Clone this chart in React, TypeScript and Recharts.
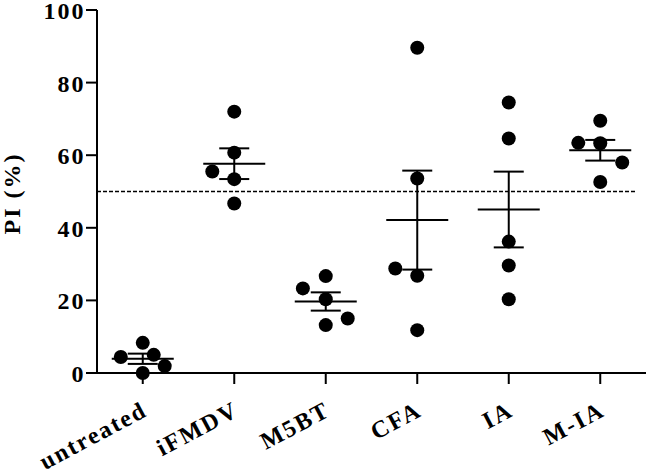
import {
  ScatterChart,
  Scatter,
  XAxis,
  YAxis,
  ReferenceLine,
  ErrorBar
} from 'recharts';

const groups = ['untreated', 'iFMDV', 'M5BT', 'CFA', 'IA', 'M-IA'];

// PI (%) per animal
const untreated = [4.4, 8.3, 5.0, 1.9, 0.0];
const iFMDV = [72.0, 60.7, 55.5, 53.4, 46.7];
const m5bt = [23.3, 26.7, 20.3, 13.2, 15.0];
const cfa = [89.6, 53.6, 28.8, 26.8, 11.8];
const ia = [74.5, 64.6, 36.2, 29.6, 20.3];
const mia = [69.5, 63.4, 63.3, 58.0, 52.6];

// horizontal scatter offsets (in category units) for overlapping dots
const untreatedShift = [-0.24, 0, 0.12, 0.24, 0];
const iFMDVShift = [0, 0, -0.24, 0, 0];
const m5btShift = [-0.25, 0, 0, 0, 0.24];
const cfaShift = [0, 0, -0.24, 0, 0];
const iaShift = [0, 0, 0, 0, 0];
const miaShift = [0, -0.24, 0, 0.24, 0];

const yTicks = [0, 20, 40, 60, 80, 100];
const threshold = 50;

const values = [untreated, iFMDV, m5bt, cfa, ia, mia];
const shifts = [untreatedShift, iFMDVShift, m5btShift, cfaShift, iaShift, miaShift];

const points = values.flatMap((vals, i) =>
  vals.map((v, j) => ({ x: i + shifts[i][j], y: v }))
);

const summary = values.map((vals, i) => {
  const n = vals.length;
  const mean = vals.reduce((a, b) => a + b, 0) / n;
  const sd = Math.sqrt(vals.reduce((a, b) => a + (b - mean) ** 2, 0) / (n - 1));
  return { x: i, y: mean, sem: sd / Math.sqrt(n) };
});

const font = '"Liberation Serif", "Times New Roman", serif';
const fontSize = 24;
const spacing = 2;

const YTick = ({ x, y, payload }: any) => (
  <text
    x={x + 1.5}
    y={y}
    dy={9}
    textAnchor="end"
    fontFamily={font}
    fontWeight="bold"
    fontSize={fontSize}
    letterSpacing={spacing}
    fill="#000"
  >
    {payload.value}
  </text>
);

const XTick = ({ x, y, payload }: any) => {
  const tx = x + 6;
  const ty = y + 29;
  return (
    <text
      x={tx}
      y={ty}
      transform={`rotate(-28, ${tx}, ${ty})`}
      textAnchor="end"
      fontFamily={font}
      fontWeight="bold"
      fontSize={fontSize}
      letterSpacing={spacing}
      fill="#000"
    >
      {groups[payload.value]}
    </text>
  );
};

const Dot = ({ cx, cy }: any) => <circle cx={cx} cy={cy} r={7} fill="#000" />;

const MeanLine = ({ cx, cy }: any) => (
  <line x1={cx - 31} x2={cx + 31} y1={cy} y2={cy} stroke="#000" strokeWidth={2} />
);

export default function App() {
  return (
    <div style={{ position: 'absolute', left: 0, top: 0, background: '#fff' }}>
      <ScatterChart
        width={648}
        height={474}
        margin={{ top: 10, right: 2, left: 0, bottom: 0 }}
      >
        <XAxis
          type="number"
          dataKey="x"
          domain={[-0.5, 5.5]}
          ticks={[0, 1, 2, 3, 4, 5]}
          interval={0}
          height={101}
          tickSize={11}
          axisLine={{ stroke: '#000', strokeWidth: 2 }}
          tickLine={{ stroke: '#000', strokeWidth: 2 }}
          tick={<XTick />}
        />
        <YAxis
          type="number"
          dataKey="y"
          domain={[0, 100]}
          ticks={yTicks}
          width={97}
          tickSize={11}
          axisLine={{ stroke: '#000', strokeWidth: 2 }}
          tickLine={{ stroke: '#000', strokeWidth: 2 }}
          tick={<YTick />}
          label={({ viewBox }: any) => {
            const lx = viewBox.x + 20;
            const ly = viewBox.y + viewBox.height / 2 + 2;
            return (
              <text
                x={lx}
                y={ly}
                transform={`rotate(-90, ${lx}, ${ly})`}
                textAnchor="middle"
                fontFamily={font}
                fontWeight="bold"
                fontSize={fontSize}
                letterSpacing={spacing}
                fill="#000"
              >
                PI (%)
              </text>
            );
          }}
        />
        <ReferenceLine
          segment={[
            { x: -0.5, y: threshold },
            { x: 5.38, y: threshold }
          ]}
          stroke="#000"
          strokeWidth={1.5}
          strokeDasharray="4 2"
        />
        <Scatter data={points} shape={<Dot />} isAnimationActive={false} />
        <Scatter data={summary} shape={<MeanLine />} isAnimationActive={false}>
          <ErrorBar
            dataKey="sem"
            direction="y"
            width={15}
            stroke="#000"
            strokeWidth={2}
            isAnimationActive={false}
          />
        </Scatter>
      </ScatterChart>
    </div>
  );
}
